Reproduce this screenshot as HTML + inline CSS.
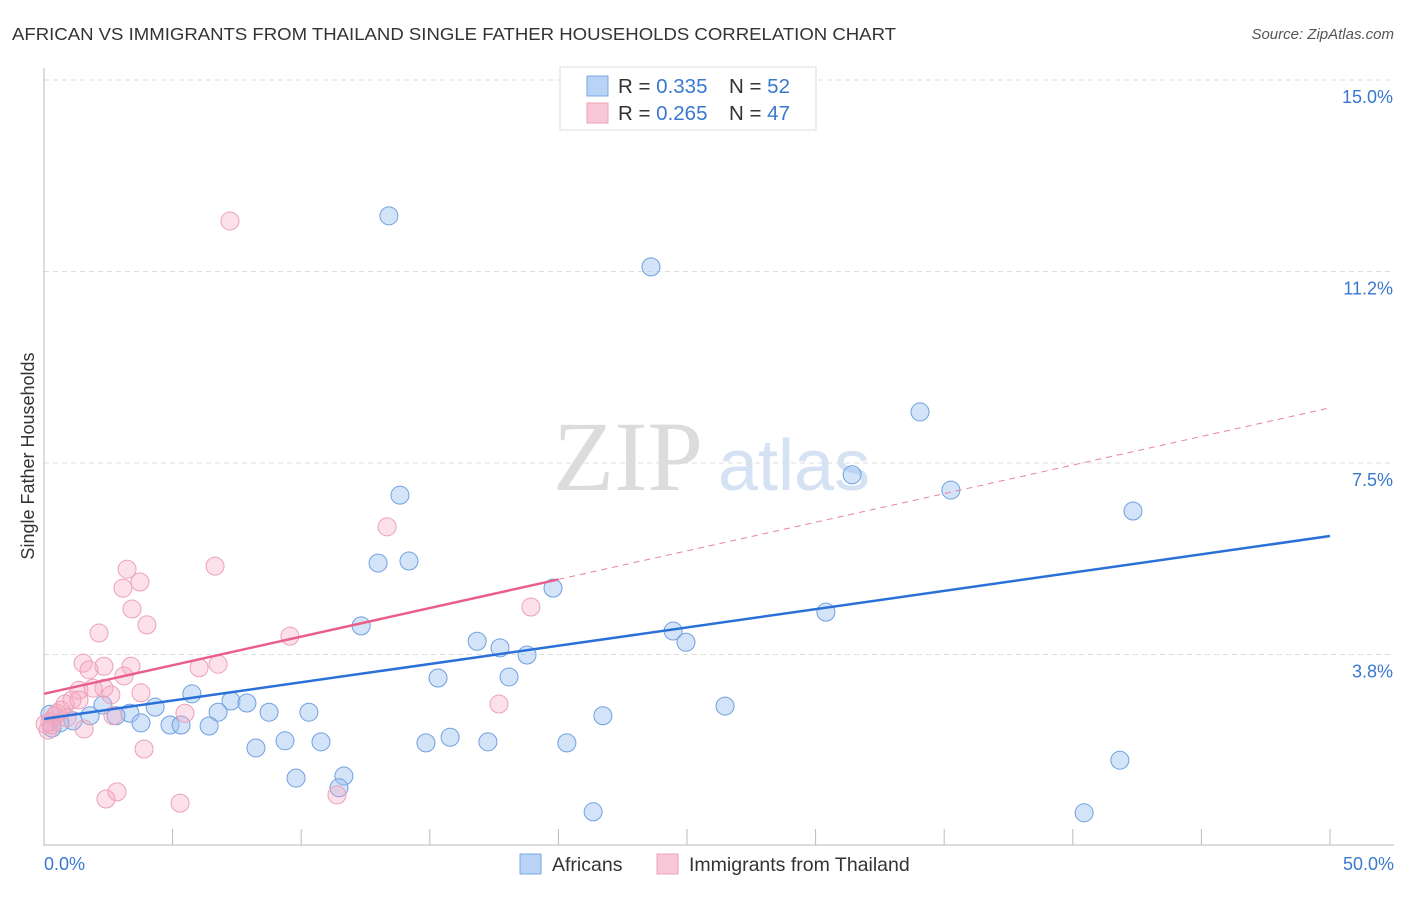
<!DOCTYPE html>
<html><head><meta charset="utf-8"><style>
body{margin:0;background:#fff;font-family:"Liberation Sans",sans-serif;}
</style></head><body>
<svg id="chart" width="1406" height="892" xmlns="http://www.w3.org/2000/svg" font-family="Liberation Sans, sans-serif">
<text x="12" y="40" font-size="17.5" fill="#333" textLength="884" lengthAdjust="spacingAndGlyphs">AFRICAN VS IMMIGRANTS FROM THAILAND SINGLE FATHER HOUSEHOLDS CORRELATION CHART</text>
<text x="1394" y="39" font-size="15" fill="#555" font-style="italic" text-anchor="end">Source: ZipAtlas.com</text>
<g>
<text x="553" y="490" font-size="100" fill="#dcdcdc" style="font-family:'Liberation Serif',serif">ZIP</text>
<text x="718" y="490" font-size="72" fill="#d4e2f4">atlas</text>
</g>
<g id="grid"></g>
<g id="axes"></g>
<g id="marks"></g>
<g>
<rect x="560" y="67" width="256" height="63" fill="#fff" stroke="#ddd"/>
<rect x="587" y="76" width="21" height="20" fill="#b8d3f6" stroke="#7aa8e6"/>
<rect x="587" y="103" width="21" height="20" fill="#f9c8d8" stroke="#eea0b8"/>
<text x="618" y="93" font-size="20.5" fill="#333">R = <tspan fill="#3a78d0">0.335</tspan></text>
<text x="729" y="93" font-size="20.5" fill="#333">N = <tspan fill="#3a78d0">52</tspan></text>
<text x="618" y="120" font-size="20.5" fill="#333">R = <tspan fill="#3a78d0">0.265</tspan></text>
<text x="729" y="120" font-size="20.5" fill="#333">N = <tspan fill="#3a78d0">47</tspan></text>
</g>
<text transform="translate(34,456) rotate(-90)" font-size="18" fill="#333" text-anchor="middle">Single Father Households</text>
<g>
<rect x="520" y="854" width="21" height="20" fill="#b8d3f6" stroke="#7aa8e6"/>
<text x="552" y="871" font-size="19.5" fill="#333">Africans</text>
<rect x="657" y="854" width="21" height="20" fill="#f9c8d8" stroke="#eea0b8"/>
<text x="689" y="871" font-size="19.5" fill="#333">Immigrants from Thailand</text>
</g>
</svg>
<script>
const yTicks=[3.75,7.5,11.25,15];
const yTickLabels=["3.8%","7.5%","11.2%","15.0%"];
const xTickLabels=["0.0%","50.0%"];
const africanX=[13.41,23.60,34.06,31.42,35.26,42.34,13.84,12.99,14.19,19.79,30.40,12.33,24.46,24.96,16.84,17.73,18.78,15.32,18.08,5.75,7.27,7.89,4.32,2.29,3.34,6.77,8.75,10.30,21.73,26.48,2.80,1.79,1.13,0.62,0.23,0.31,3.77,4.90,5.33,6.42,8.24,9.37,10.77,14.85,15.79,17.26,20.33,9.80,11.66,11.47,41.83,21.35,40.44];
const africanY=[12.34,11.34,8.50,7.27,6.97,6.56,6.87,5.54,5.58,5.05,4.58,4.31,4.21,3.99,4.01,3.88,3.74,3.29,3.31,2.98,2.84,2.80,2.72,2.76,2.60,2.62,2.62,2.62,2.55,2.74,2.55,2.55,2.45,2.41,2.58,2.31,2.41,2.37,2.37,2.35,1.92,2.06,2.04,2.02,2.13,2.04,2.02,1.33,1.37,1.14,1.68,0.67,0.65];
const thaiX=[7.23,13.34,6.65,3.23,3.73,3.07,18.93,3.42,4.00,2.14,9.56,1.52,2.33,1.75,6.77,6.03,3.38,3.11,2.33,1.91,1.36,2.60,3.77,1.09,0.82,1.36,0.66,0.43,0.23,0.89,1.56,0.16,0.51,5.48,17.69,2.68,3.89,2.41,2.84,5.29,11.39,0.31,0.04];
const thaiY=[12.24,6.25,5.48,5.42,5.17,5.05,4.68,4.64,4.33,4.17,4.11,3.58,3.52,3.45,3.56,3.49,3.52,3.33,3.09,3.09,3.05,2.96,3.00,2.86,2.78,2.86,2.66,2.55,2.43,2.51,2.29,2.27,2.60,2.60,2.78,2.55,1.90,0.92,1.06,0.84,1.00,2.37,2.39];
const africanTrend=[2.49,6.07];
const thaiTrend=[2.98,8.58];
const thaiSolidEnd=20;
const NS="http://www.w3.org/2000/svg";
const X=v=>44+v/50*1286;
const Y=v=>846-v/15*766;
function mk(tag,attrs,parent){const e=document.createElementNS(NS,tag);for(const k in attrs)e.setAttribute(k,attrs[k]);parent.appendChild(e);return e;}
const grid=document.getElementById('grid'),axes=document.getElementById('axes'),marks=document.getElementById('marks');
yTicks.forEach((t,i)=>{
 const l=mk('line',{x1:44,x2:1394,y1:Y(t),y2:Y(t),stroke:'#ddd','stroke-dasharray':'5,4'},grid);
 
 
 const tx=mk('text',{x:1393,y:Y(t)+23,'font-size':18,fill:'#3a78d0','text-anchor':'end'},axes);
 tx.textContent=yTickLabels[i];
 
 
});
const ax=mk('line',{x1:44,x2:44,y1:68,y2:846,stroke:'#bbb'},axes);


const bx=mk('line',{x1:44,x2:1394,y1:845,y2:845,stroke:'#bbb'},axes);


for(let i=0;i<=10;i++){
 const t=mk('line',{x1:X(i*5),x2:X(i*5),y1:829,y2:845,stroke:'#bbb'},axes);
 
 
}
[[0,44,'start'],[1,1394,'end']].forEach(([i,x,a])=>{
 const t=mk('text',{x:x,y:870,'font-size':18,fill:'#3a78d0','text-anchor':a},axes);
 t.textContent=xTickLabels[i];
 
 
});
africanX.forEach((v,i)=>{
 const c=mk('circle',{cx:X(v),cy:Y(africanY[i]),r:9,fill:'rgba(160,195,240,0.45)',stroke:'#6fa0e0','stroke-width':1},marks);
 
 
});
thaiX.forEach((v,i)=>{
 const c=mk('circle',{cx:X(v),cy:Y(thaiY[i]),r:9,fill:'rgba(245,170,195,0.35)',stroke:'#eea0b8','stroke-width':1},marks);
 
 
});
const ty=x=>thaiTrend[0]+(thaiTrend[1]-thaiTrend[0])*x/50;
const td=mk('line',{x1:X(thaiSolidEnd),y1:Y(ty(thaiSolidEnd)),x2:X(50),y2:Y(thaiTrend[1]),stroke:'#e8819f','stroke-width':1,'stroke-dasharray':'6,5'},marks);


const ts=mk('line',{x1:X(0),y1:Y(thaiTrend[0]),x2:X(thaiSolidEnd),y2:Y(ty(thaiSolidEnd)),stroke:'#e8608a','stroke-width':2.5},marks);


const at=mk('line',{x1:X(0),y1:Y(africanTrend[0]),x2:X(50),y2:Y(africanTrend[1]),stroke:'#2a70d8','stroke-width':2.5},marks);


</script>
</body></html>
